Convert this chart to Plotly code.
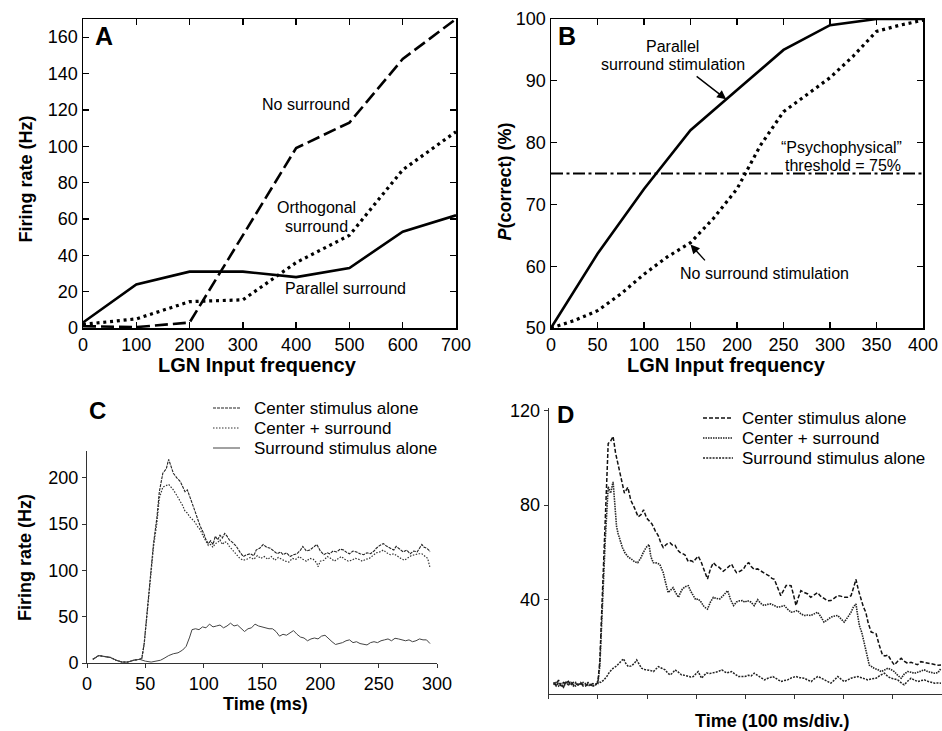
import plotly.graph_objects as go

W, H = 942, 731
def px(x):
    return x / W
def py(y):
    return 1 - y / H

FONT = "Liberation Sans, Arial, Helvetica, sans-serif"

# ---------------- Panel A ----------------
A_freq = [0, 100, 200, 300, 400, 500, 600, 700]
A_no_surround = [1, 0.5, 3, 51, 99, 113, 148, 170]
A_orthogonal = [2, 5, 14.5, 15.5, 36, 51, 87, 108]
A_parallel = [3, 24, 31, 31, 28, 33, 53, 62]

# ---------------- Panel B ----------------
B_freq_par = [0, 50, 100, 150, 200, 250, 300, 350, 400]
B_parallel = [50, 62, 72.5, 82, 88.5, 95, 99, 100, 100]
B_freq_no = [0, 25, 50, 75, 100, 125, 150, 175, 200, 225, 250, 275, 300, 325, 350, 375, 400]
B_no_surround = [50, 51.2, 52.8, 55.5, 58.7, 61.5, 63.8, 67.8, 72.5, 79.5, 85, 87.8, 90.5, 94, 98, 99, 99.8]
B_threshold = 75
B_arrow_par = [(155, 90.9), (188.4, 87.0)]   # (tail, head)
B_arrow_no = [(167, 60.7), (150, 63.5)]

# ---------------- Panel C ----------------
C_center_t = [5, 10, 15, 20, 25, 30, 35, 40, 45, 47, 49, 51, 54, 57, 60, 62, 65, 68, 70, 72, 74, 77, 80, 84, 86, 88,
              90, 92, 95, 97, 100, 102, 104, 106, 108, 110, 112, 114, 116, 118, 120, 122, 125, 128, 131, 134, 137,
              140, 143, 145, 148, 151, 154, 157, 160, 163, 166, 168, 171, 174, 177, 180, 183, 185, 188, 191, 194,
              197, 200, 203, 206, 208, 211, 214, 217, 220, 223, 225, 228, 231, 234, 237, 240, 243, 246, 248, 251,
              254, 257, 260, 263, 265, 268, 271, 274, 277, 280, 283, 285, 287, 289, 291, 293, 294]
C_center_rate = [4, 8, 7, 6, 3, 1, 1, 3, 4, 5, 21, 50, 93, 129, 158, 185, 205, 210, 220, 212, 205, 200, 196, 185, 187,
                 180, 172, 166, 155, 148, 140, 133, 129, 132, 128, 137, 133, 138, 135, 140, 137, 133, 130, 126, 120,
                 115, 117, 118, 116, 122, 124, 128, 125, 124, 121, 118, 120, 117, 119, 115, 117, 118, 122, 126, 121,
                 122, 125, 128, 121, 117, 119, 118, 121, 120, 123, 122, 119, 118, 121, 120, 118, 117, 119, 118, 121,
                 124, 127, 129, 126, 124, 122, 126, 123, 120, 122, 118, 121, 120, 124, 128, 125, 124, 122, 120]

C_cs_t = [5, 10, 15, 20, 25, 30, 35, 40, 45, 47, 49, 51, 54, 57, 60, 62, 65, 68, 70, 72, 74, 77, 80, 82, 84, 86, 88,
          90, 92, 95, 97, 100, 102, 104, 106, 108, 110, 112, 114, 116, 118, 120, 122, 125, 128, 131, 134, 137, 140,
          143, 146, 149, 152, 155, 158, 161, 164, 167, 170, 173, 176, 179, 182, 185, 188, 191, 194, 197, 198, 200,
          203, 206, 209, 212, 215, 218, 221, 224, 227, 230, 233, 236, 239, 242, 245, 248, 251, 254, 257, 260, 263,
          266, 269, 272, 275, 278, 281, 284, 287, 290, 292, 294]
C_cs_rate = [4, 8, 7, 6, 3, 1, 1, 3, 4, 5, 20, 48, 90, 125, 152, 178, 190, 192, 193, 190, 187, 181, 175, 170, 164,
             162, 158, 156, 153, 147, 144, 136, 131, 127, 128, 125, 129, 130, 133, 128, 131, 130, 126, 122, 117, 113,
             111, 112, 114, 112, 116, 113, 115, 112, 115, 111, 114, 112, 110, 109, 113, 112, 115, 112, 110, 113, 112,
             108, 104, 110, 111, 115, 113, 110, 113, 115, 112, 110, 111, 113, 112, 110, 112, 113, 116, 119, 120, 122,
             119, 117, 118, 115, 113, 111, 114, 116, 117, 118, 118, 115, 113, 103]

C_sur_t = [5, 10, 15, 20, 25, 30, 35, 40, 45, 50, 55, 60, 63, 66, 70, 74, 78, 82, 85, 88, 90, 93, 96, 99, 102, 105,
           108, 111, 114, 117, 120, 123, 126, 129, 132, 135, 138, 141, 144, 147, 150, 153, 156, 159, 162, 165, 168,
           171, 174, 177, 180, 183, 186, 189, 192, 195, 198, 201, 204, 207, 210, 213, 216, 219, 222, 225, 228, 231,
           234, 237, 240, 243, 246, 249, 252, 255, 258, 261, 264, 267, 270, 273, 276, 279, 282, 285, 288, 291, 294]
C_sur_rate = [4, 8, 7, 6, 3, 1, 1, 3, 4, 2, 1, 2, 3, 5, 8, 10, 11, 14, 18, 28, 36, 37, 36, 39, 38, 42, 39, 40, 41,
              38, 40, 43, 40, 41, 38, 34, 37, 38, 42, 40, 39, 38, 37, 37, 34, 29, 31, 30, 33, 35, 31, 28, 27, 24, 26,
              27, 26, 29, 30, 26, 23, 20, 21, 22, 24, 25, 22, 23, 21, 20, 19.5, 22, 23, 22, 24, 25, 26, 24, 26.7, 26,
              25, 24, 25, 23, 24, 26, 25, 25, 21]

# ---------------- Panel D ----------------
D_center_t = [10, 15, 20, 25, 30, 35, 40, 45, 50, 55, 60, 65, 70, 75, 80, 85, 90, 95, 100, 104, 109, 115, 121, 126,
              131, 136, 142, 148, 154, 161, 167, 174, 182, 188, 193, 199, 205, 210, 217, 223, 228, 233, 240, 247,
              252, 257, 262, 267, 272, 277, 284, 289, 294, 299, 304, 310, 315, 319, 323, 329, 335, 340, 345, 350,
              355, 361, 366, 372, 377, 382, 389, 396, 402, 407, 412, 418, 425, 432, 440, 449, 454, 459, 465, 472,
              478, 483, 488, 493, 498, 503, 508, 513, 520, 527, 533, 540, 547, 553, 561, 567, 574, 580, 588, 594,
              601, 608, 615, 620, 625, 630, 635, 640, 645, 650, 656, 661, 666, 672, 679, 684, 690, 696, 703, 710,
              717, 723, 730, 737, 744, 750, 757, 764, 771, 778, 785, 792, 798]
D_center_rate = [5, 4, 6, 3.5, 5, 4.5, 5.5, 4, 5, 4.5, 4, 5, 4, 3.5, 4.5, 4, 4.5, 4, 5, 14, 42, 70, 106, 107, 109,
                 102, 96, 90, 85, 87.5, 82, 79, 75, 76, 78, 74.5, 73, 72, 69, 67, 64, 62, 63.5, 64, 63, 63, 61, 60,
                 59.5, 59, 56, 56.5, 56, 57, 58.4, 56, 53.5, 51, 48.7, 53, 55.6, 54.5, 54, 53, 52, 53, 54, 55, 53,
                 51.4, 52, 52.8, 55, 55.6, 54, 52.8, 53, 52, 51, 50, 49, 48.6, 45, 41.7, 44, 46, 46, 45.9, 42, 37.5,
                 41, 43.8, 43, 42.4, 41, 42, 43, 41.5, 40.3, 39.5, 39.6, 40.5, 41.7, 41.5, 41, 41, 41.7, 45, 48.6,
                 44, 40.3, 37, 34.7, 30, 26.3, 26, 25.6, 21, 16.6, 16.2, 16.6, 14.5, 12.4, 14, 15.2, 14, 13.1, 13.5,
                 13.1, 12.5, 13.8, 13.5, 13.2, 13.1, 12.7, 12.3, 12.4]

D_cs_t = [10, 15, 20, 25, 30, 35, 40, 45, 50, 55, 60, 65, 70, 75, 80, 85, 90, 95, 100, 104, 109, 115, 121, 126, 131,
          134, 138, 141, 145, 150, 155, 162, 169, 175, 181, 187, 192, 198, 204, 208, 213, 220, 226, 230, 233, 238,
          243, 248, 253, 258, 264, 268, 272, 278, 284, 289, 294, 299, 304, 310, 316, 323, 329, 335, 341, 348, 354,
          360, 364, 370, 376, 382, 388, 394, 399, 404, 411, 418, 425, 431, 438, 445, 452, 459, 466, 472, 479, 486,
          493, 500, 506, 513, 520, 527, 533, 540, 547, 553, 560, 567, 574, 580, 588, 594, 601, 608, 615, 620, 625,
          628, 632, 637, 642, 647, 652, 657, 662, 669, 676, 683, 690, 696, 703, 710, 717, 723, 730, 737, 744, 750,
          757, 764, 771, 778, 785, 792, 798]
D_cs_rate = [4, 5, 3.5, 4.5, 3, 5, 4, 5, 4, 3.5, 4.5, 4, 5, 4.5, 3.5, 4, 3.5, 4, 4.5, 12, 38, 65, 87.7, 85, 89.8, 80,
             71, 68, 65.4, 62, 59.8, 58, 57, 56, 55.6, 57.5, 59.8, 62, 63.3, 58, 55.6, 55.5, 54.9, 53, 51.4, 47, 43,
             44, 45.1, 43, 41, 43, 44.5, 45.5, 45.9, 43.5, 41.7, 40, 40.3, 39, 37, 36, 39, 41, 40.5, 40.3, 41.5, 43,
             43.8, 40, 37.5, 39, 39.5, 39.6, 38.9, 39.6, 39, 37.5, 40, 38.5, 37.5, 38, 38.2, 37.5, 36.8, 37, 37.5,
             36, 34.7, 35, 35.4, 34, 33.3, 33.5, 33.3, 34, 34.7, 33, 30.5, 31.5, 32.6, 33, 33.3, 32, 30.5, 32.5,
             34.7, 37, 38.2, 34, 29, 26, 22, 17, 12.4, 11.5, 11, 10.5, 9.6, 10.3, 11, 10.5, 9.6, 8, 6.8, 8.5, 9.6,
             9.3, 8.9, 9.3, 9.8, 10.3, 9.6, 9.2, 8.9, 9.2, 11]

D_sur_t = [10, 15, 20, 25, 30, 35, 40, 45, 50, 55, 60, 65, 70, 75, 80, 85, 90, 95, 100, 106, 112, 118, 124, 131, 138,
           145, 152, 157, 162, 168, 174, 179, 184, 189, 195, 202, 208, 213, 218, 223, 230, 237, 242, 247, 252, 257,
           263, 270, 277, 284, 289, 294, 299, 304, 308, 311, 316, 321, 328, 335, 343, 352, 357, 362, 367, 372, 379,
           386, 392, 399, 406, 412, 418, 425, 432, 439, 446, 456, 464, 472, 479, 486, 494, 503, 511, 520, 527, 534,
           540, 547, 553, 561, 567, 574, 581, 588, 594, 601, 608, 615, 622, 629, 636, 642, 649, 656, 666, 674, 683,
           690, 696, 703, 710, 716, 723, 730, 737, 744, 751, 758, 764, 771, 778, 785, 792, 798]
D_sur_rate = [5, 3.5, 5, 4, 3, 5.5, 4, 4.5, 3.5, 5, 4, 4.5, 3.5, 4, 5, 4, 3.5, 4, 5.5, 5, 6, 7.5, 9.5, 11, 12, 13.5,
              15, 13, 11.7, 12, 13, 14.5, 12.5, 11, 10.5, 10.3, 10, 9.6, 10.5, 11.7, 11, 10.3, 9, 8.2, 9, 10.3, 9.5,
              8.2, 8, 7.5, 7.3, 7.5, 8.5, 9.6, 8, 6.8, 8, 9, 8.8, 9, 9.5, 10.3, 9.5, 9, 9.3, 9.6, 8.5, 7.5, 7.5, 7.5,
              8, 7.8, 8.9, 8, 7, 6.1, 6.8, 7.5, 6.5, 5.4, 5.8, 6.1, 7, 7.5, 7, 6.8, 6, 5.4, 6.5, 7.5, 7, 6.1, 5.3,
              4.7, 6, 7.5, 6.5, 5.4, 6, 6.8, 7.2, 7.5, 7, 6.5, 6.1, 6.5, 6.8, 8, 8.9, 7.5, 6.8, 6.5, 6.1, 5, 4, 5.5,
              6.8, 6, 5.4, 5.8, 6.1, 5.5, 5, 4.7, 4.8, 4.7]

LEGEND_LABELS = ["Center stimulus alone", "Center + surround", "Surround stimulus alone"]

fig = go.Figure()

# Panel A traces
fig.add_trace(go.Scatter(x=A_freq, y=A_no_surround, mode="lines", xaxis="x", yaxis="y",
                         line=dict(color="black", width=2.6, dash="13px,5px"), showlegend=False))
fig.add_trace(go.Scatter(x=A_freq, y=A_orthogonal, mode="lines", xaxis="x", yaxis="y",
                         line=dict(color="black", width=3.2, dash="3px,3.8px"), showlegend=False))
fig.add_trace(go.Scatter(x=A_freq, y=A_parallel, mode="lines", xaxis="x", yaxis="y",
                         line=dict(color="black", width=2.6), showlegend=False))

# Panel B traces
fig.add_trace(go.Scatter(x=[0, 400], y=[B_threshold, B_threshold], mode="lines", xaxis="x2", yaxis="y2",
                         line=dict(color="black", width=2.2, dash="12px,3.5px,3px,3.5px"), showlegend=False))
fig.add_trace(go.Scatter(x=B_freq_par, y=B_parallel, mode="lines", xaxis="x2", yaxis="y2",
                         line=dict(color="black", width=2.6), showlegend=False))
fig.add_trace(go.Scatter(x=B_freq_no, y=B_no_surround, mode="lines", xaxis="x2", yaxis="y2",
                         line=dict(color="black", width=3.2, dash="3px,3.8px"), showlegend=False))

# Panel C traces
C_styles = [dict(color="#222", width=1.1, dash="3px,1px"),
            dict(color="#333", width=1.2, dash="1.5px,1.5px"),
            dict(color="#444", width=1.0)]
for t, r, st, name in zip([C_center_t, C_cs_t, C_sur_t], [C_center_rate, C_cs_rate, C_sur_rate], C_styles, LEGEND_LABELS):
    fig.add_trace(go.Scatter(x=t, y=r, mode="lines", xaxis="x3", yaxis="y3", name=name,
                             line=st, showlegend=False))

# Panel D traces
D_styles = [dict(color="#111", width=1.5, dash="4px,2px"),
            dict(color="#222", width=1.6, dash="1.5px,1px"),
            dict(color="#222", width=1.5, dash="2px,1.2px")]
for t, r, st, name in zip([D_center_t, D_cs_t, D_sur_t], [D_center_rate, D_cs_rate, D_sur_rate], D_styles, LEGEND_LABELS):
    fig.add_trace(go.Scatter(x=t, y=r, mode="lines", xaxis="x4", yaxis="y4", name=name,
                             line=st, showlegend=False))

tickfont = dict(family=FONT, size=18, color="black")
box = dict(showline=True, linecolor="black", linewidth=1.5, mirror="ticks", ticks="inside",
           ticklen=6, tickwidth=1.3, tickcolor="black", showgrid=False, zeroline=False, tickfont=tickfont,
           automargin=False)
open_ax = dict(showline=True, linecolor="#333", linewidth=1, ticks="outside", ticklen=4, tickwidth=1,
               tickcolor="#333", showgrid=False, zeroline=False, tickfont=tickfont, automargin=False)

fig.update_layout(
    width=W, height=H, autosize=False,
    margin=dict(l=0, r=0, t=0, b=0, pad=0, autoexpand=False),
    paper_bgcolor="white", plot_bgcolor="white",
    font=dict(family=FONT, color="black"),
    showlegend=False,
    xaxis=dict(domain=[px(83), px(456)], range=[0, 700], tickvals=A_freq, anchor="y", **box),
    yaxis=dict(domain=[py(328), py(19)], range=[0, 170], dtick=20, anchor="x", **box),
    xaxis2=dict(domain=[px(551), px(923)], range=[0, 400], dtick=50, anchor="y2", **box),
    yaxis2=dict(domain=[py(328), py(19)], range=[50, 100], dtick=10, anchor="x2", **box),
    xaxis3=dict(domain=[px(87), px(437)], range=[0, 300], dtick=50, anchor="y3", **open_ax),
    yaxis3=dict(domain=[py(663), py(451)], range=[0, 229], tickvals=[0, 50, 100, 150, 200], anchor="x3", **open_ax),
    xaxis4=dict(domain=[px(548.7), 1.0], range=[0, 800], dtick=100, showticklabels=False, anchor="y4", **open_ax),
    yaxis4=dict(domain=[py(694.3), py(408)], range=[0, 121], tickvals=[40, 80, 120], anchor="x4", **open_ax),
)

ann = []
def text(x, y, s, size=16, bold=False, angle=0, xanchor="center"):
    if bold:
        s = "<b>" + s + "</b>"
    ann.append(dict(x=px(x), y=py(y), xref="paper", yref="paper", text=s, showarrow=False,
                    xanchor=xanchor, yanchor="middle", textangle=angle,
                    font=dict(family=FONT, size=size, color="black")))

# panel letters
text(104, 36, "A", size=25, bold=True)
text(567, 36.5, "B", size=25, bold=True)
text(97.5, 410, "C", size=24, bold=True)
text(565, 415, "D", size=24, bold=True)

# axis titles
text(25.5, 179, "Firing rate (Hz)", size=18, bold=True, angle=-90)
text(257, 365, "LGN Input frequency", size=20, bold=True)
text(504.5, 182, "<i>P</i>(correct) (%)", size=18, bold=True, angle=-90)
text(726, 365, "LGN Input frequency", size=20, bold=True)
text(24.5, 557.5, "Firing rate (Hz)", size=18, bold=True, angle=-90)
text(265, 704, "Time (ms)", size=18, bold=True)
text(772, 721, "Time (100 ms/div.)", size=18, bold=True)

# panel A labels
text(305.5, 104, "No surround")
text(316.5, 207.5, "Orthogonal")
text(316.7, 226.7, "surround")
text(345, 288, "Parallel surround")

# panel B labels
text(672.5, 46, "Parallel")
text(672.5, 64, "surround stimulation")
text(841, 147, "\u201cPsychophysical\u201d")
text(842.5, 165.5, "threshold = 75%")
text(764, 273.5, "No surround stimulation")

for (tail, head) in [B_arrow_par, B_arrow_no]:
    ann.append(dict(x=head[0], y=head[1], ax=tail[0], ay=tail[1], xref="x2", yref="y2",
                    axref="x2", ayref="y2", text="", showarrow=True, arrowhead=2,
                    arrowsize=1.3, arrowwidth=1.4, arrowcolor="black"))

# manual legends for C and D
shapes = []
def legend(x_line0, x_line1, x_text, rows, styles):
    for yrow, st, lab in zip(rows, styles, LEGEND_LABELS):
        shapes.append(dict(type="line", xref="paper", yref="paper", x0=px(x_line0), x1=px(x_line1),
                           y0=py(yrow), y1=py(yrow),
                           line=dict(color=st["color"], width=st["width"], dash=st.get("dash", "solid"))))
        text(x_text, yrow, lab, size=17, xanchor="left")

legend(213, 240, 252, [408, 428, 448], C_styles)
legend(703, 733, 740, [418, 438, 458], D_styles)

fig.update_layout(annotations=ann, shapes=shapes)
fig.write_html("out.html",
               config={"displayModeBar": False, "staticPlot": True},
               post_script="document.body.style.margin='0';document.body.style.overflow='hidden';")
